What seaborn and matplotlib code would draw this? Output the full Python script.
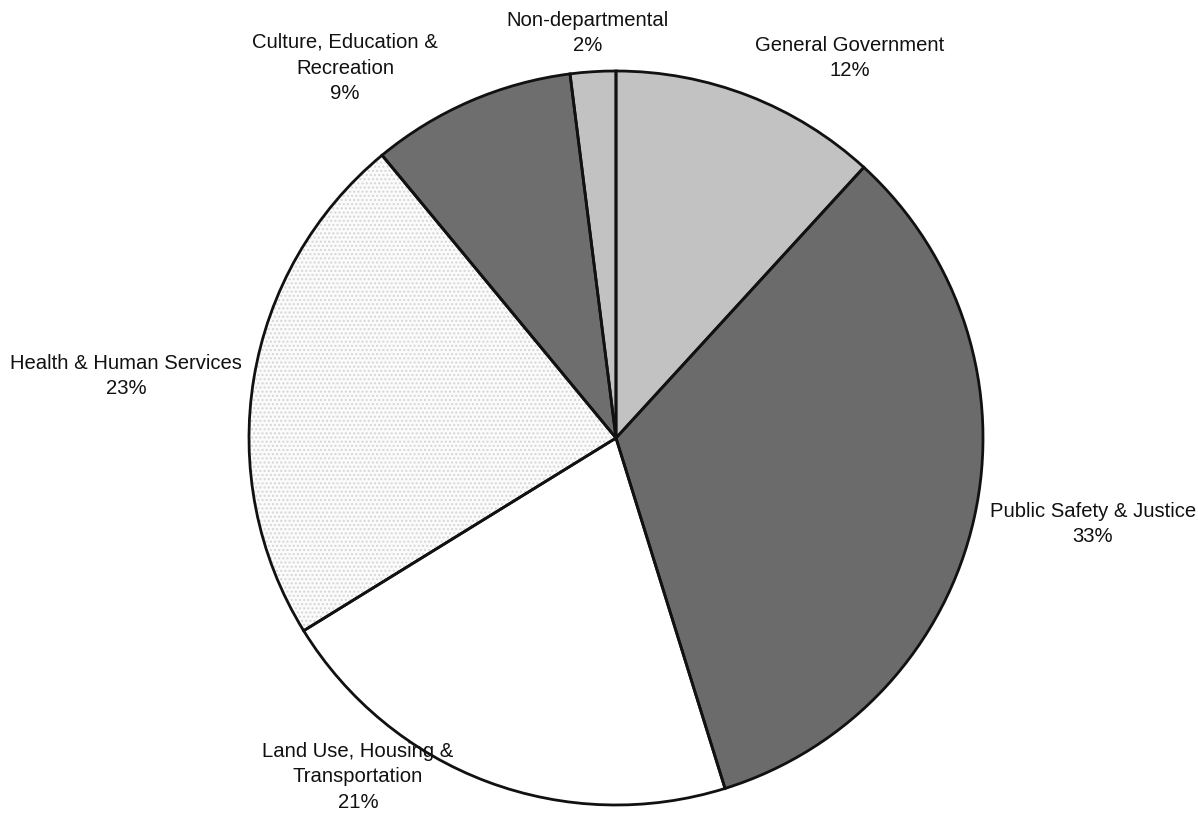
import matplotlib
matplotlib.use("Agg")
import matplotlib.pyplot as plt
import seaborn as sns

categories = ["General Government", "Public Safety & Justice",
              "Land Use, Housing &\nTransportation", "Health & Human Services",
              "Culture, Education &\nRecreation", "Non-departmental"]
shares = [11.8, 33.4, 21.0, 22.8, 9.0, 2.0]

colors = ["#c2c2c2", "#6b6b6b", "#ffffff", "#fbfbfb", "#6e6e6e", "#c2c2c2"]
hatches = [None, None, None, "....", None, None]
# label centres in pixel coordinates (x, y from top)
label_pos = [(850, 58), (1093, 524), (358, 777), (126, 376), (345, 68), (588, 33)]

sns.set_theme(style="white")
plt.rcParams["font.family"] = ["Liberation Sans", "DejaVu Sans"]

W, H = 1198, 814
fig = plt.figure(figsize=(W / 100, H / 100), dpi=100)
ax = fig.add_axes([0, 0, 1, 1])
ax.set_xlim(0, W)
ax.set_ylim(0, H)
ax.set_aspect("equal")
ax.axis("off")

cx, cy, r = 616, H - 438, 367

wedges, _ = ax.pie(shares, colors=colors, startangle=90, counterclock=False,
                   center=(cx, cy), radius=r, frame=True,
                   wedgeprops=dict(linewidth=0, edgecolor="none"))
for w, h in zip(wedges, hatches):
    if h:
        w.set_hatch(h)
        w.set_edgecolor("#d6d6d6")
        w.set_linewidth(0)

ax.pie(shares, colors=["none"] * len(shares), startangle=90, counterclock=False,
       center=(cx, cy), radius=r, frame=True,
       wedgeprops=dict(linewidth=2, edgecolor="#111111", fill=False))

for cat, val, (px, py) in zip(categories, shares, label_pos):
    ax.text(px, H - py, f"{cat}\n{round(val)}%", ha="center", va="center",
            fontsize=14.6, color="#111111", linespacing=1.46)

ax.set_xlim(0, W)
ax.set_ylim(0, H)
ax.axis("off")
fig.savefig("out.png", dpi=100, facecolor="white")
